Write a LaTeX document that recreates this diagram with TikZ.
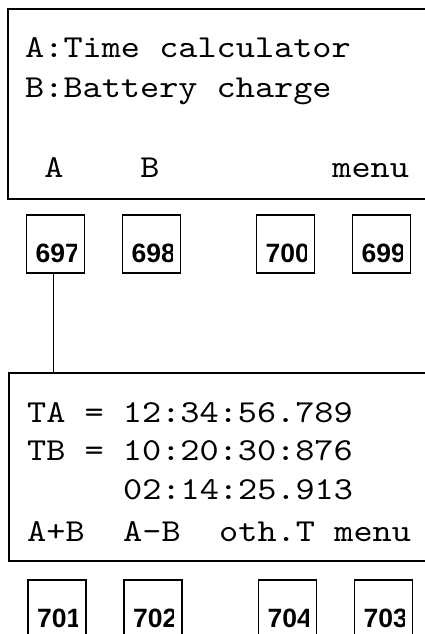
\documentclass[tikz,border=0pt]{standalone}
\usepackage{fontspec}
\newfontfamily\lcdfont[FakeStretch=1.14]{lmmono10-regular.otf}
\newfontfamily\keyfont{Liberation Sans}
\usetikzlibrary{positioning}

\tikzset{
  screen/.style={draw, line width=1.6pt, anchor=north west, inner sep=0pt},
  lcdtext/.style={anchor=base west, inner sep=0pt, font=\lcdfont\fontsize{32}{38}\selectfont},
  keybox/.style={draw, line width=1.3pt, minimum width=58pt, minimum height=58pt, inner sep=0pt},
  keylabel/.style={anchor=base west, inner sep=0pt, font=\keyfont\bfseries\fontsize{26.5}{30}\selectfont}
}

\begin{document}
\begin{tikzpicture}[x=1pt,y=-1pt]
\clip (0,0) rectangle (425,634);
% Menu screen
\node[screen, minimum width=463pt, minimum height=190pt] (scrA) at (7,8) {};
\node[lcdtext] (menuA) at (25,57) {A:Time calculator};
\node[lcdtext] (menuB) at (25,97) {B:Battery charge};
\foreach \idx/\lab/\nm in {1/A/softA,6/B/softB,16/menu/softM}
  \node[lcdtext] (\nm) at (25+\idx*19.2,177) {\lab};
% Keys below menu screen
\foreach \x/\num in {55.5/697,151.5/698,285.5/700,381.5/699}{%
  \node[keybox] (k\num) at (\x,244) {};
  \begin{scope}
    \clip ([xshift=1pt]k\num.north west) rectangle ([xshift=-9pt]k\num.south east);
    \node[keylabel] (l\num) at ([xshift=9.5pt,yshift=11pt]k\num.south west) {\num};
  \end{scope}
}
% Time calculator screen
\node[screen, minimum width=462pt, minimum height=188pt] (scrB) at (8,372) {};
\node[lcdtext] (timeA) at (27,422) {TA = 12:34:56.789};
\node[lcdtext] (timeB) at (27,460) {TB = 10:20:30:876};
\node[lcdtext] (timeR) at (27+5*19.2,499) {02:14:25.913};
\foreach \idx/\lab/\nm in {0/A+B/softAdd,5/A-B/softSub,10/oth.T/softOth,16/menu/softMenu}
  \node[lcdtext] (\nm) at (27+\idx*19.2,541) {\lab};
% Keys below time screen
\foreach \x/\num in {57/701,153/702,287.5/704,383.5/703}{%
  \node[keybox] (k\num) at (\x,609) {};
  \begin{scope}
    \clip ([xshift=1pt]k\num.north west) rectangle ([xshift=-9pt]k\num.south east);
    \node[keylabel] (l\num) at ([xshift=9.5pt,yshift=11pt]k\num.south west) {\num};
  \end{scope}
}
% Key A leads to the time calculator
\draw[line width=1pt] ([xshift=-2.5pt]k697.south) -- ([xshift=-2.5pt]k697.south |- scrB.north);
\end{tikzpicture}
\end{document}
